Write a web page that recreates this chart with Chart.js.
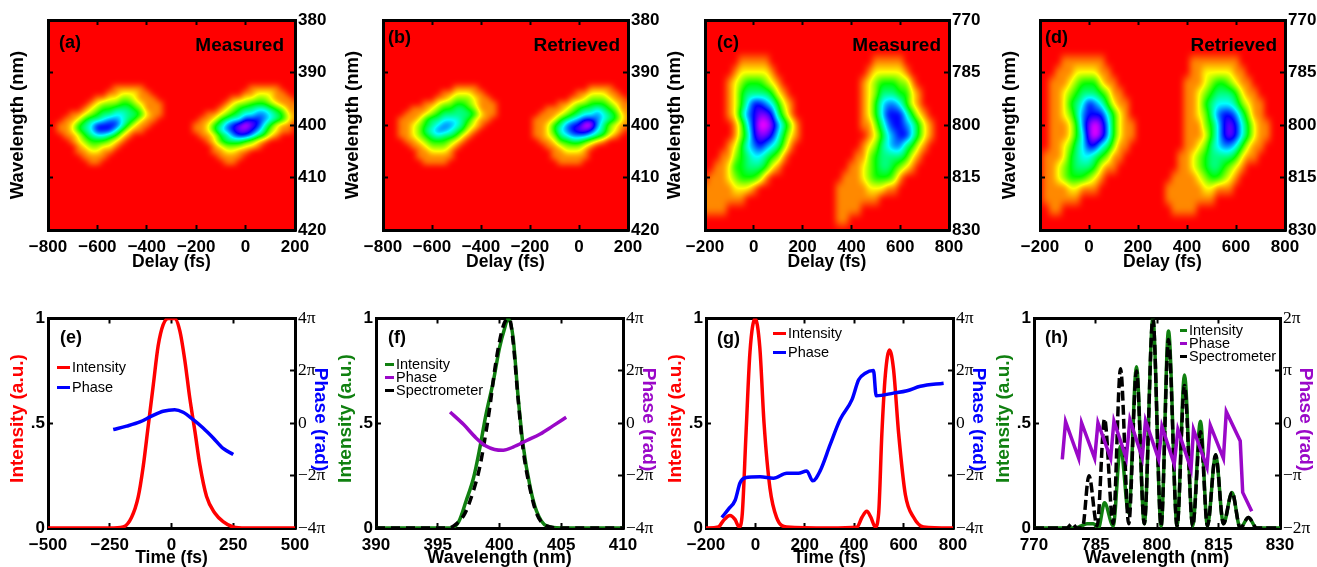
<!DOCTYPE html>
<html lang="en">
<head>
<meta charset="UTF-8">
<title>FROG traces and retrieved pulses</title>
<script src="https://cdn.jsdelivr.net/npm/chart.js"></script>
<style>
    html, body { margin: 0; padding: 0; background: #fff; width: 1317px; height: 567px; overflow: hidden; }
    canvas { position: absolute; filter: blur(0.5px); }
</style>
</head>
<body>
<script>
// tick lists
const delayTicksAB = [-800, -600, -400, -200, 0, 200];
const delayTicksCD = [-200, 0, 200, 400, 600, 800];
const waveTicksAB = [380, 390, 400, 410, 420];
const waveTicksCD = [770, 785, 800, 815, 830];
const timeTicksE = [-500, -250, 0, 250, 500];
const waveTicksF = [390, 395, 400, 405, 410];
const timeTicksG = [-200, 0, 200, 400, 600, 800];
const waveTicksH = [770, 785, 800, 815, 830];
const intensityTicks = [0, 0.5, 1];
const phaseTicks4 = [-4, -2, 0, 2, 4];   // in units of pi
const phaseTicks2 = [-2, -1, 0, 1, 2];

// trace grids: one digit per cell, 0 = background, a = peak
const delaysAB = [-800,-775,-750,-725,-700,-675,-650,-625,-600,-575,-550,-525,-500,-475,-450,-425,-400,-375,-350,-325,-300,-275,-250,-225,-200,-175,-150,-125,-100,-75,-50,-25,0,25,50,75,100,125,150,175,200];
const delaysCD = [-200,-175,-150,-125,-100,-75,-50,-25,0,25,50,75,100,125,150,175,200,225,250,275,300,325,350,375,400,425,450,475,500,525,550,575,600,625,650,675,700,725,750,775,800];
const wavesAB = [393,394,395,396,397,398,399,400,401,402,403,404,405,406,407];
const wavesCD = [782,785,788,791,794,797,800,803,806,809,812,815,818,821,824,827];

const traceA = [
  '000000000001111100000 00000000000011111000',
  '000000000011222110000 00000000000112221100',
  '000000001122332111000 00000000011223321110',
  '000000012333443211100 00000000123344432111',
  '000000123445554311100 00000001234556654311',
  '000011234556655421100 00000112345667765421',
  '000112455677654211000 00001124566888765421',
  '001124568888642110000 00011245789a98642110',
  '001124568886421100000 00011246789987532110',
  '000112456654210000000 00001124578875421000',
  '000012344432100000000 00000124555432100000',
  '000001233221000000000 00000012333221000000',
  '000001122110000000000 00000011221100000000',
  '000000111100000000000 00000001111000000000',
  '000000011000000000000 00000000110000000000'
];
const traceB = [
  '000000000000111100000 00000000000001111000',
  '000000000011222110000 00000000000112221100',
  '000000000112333211000 00000000001123332110',
  '000000011233443211100 00000000112334443211',
  '000001112344554311100 00000011123455654311',
  '000011123455555421100 00000111234566765421',
  '000111245566654211000 00001112456788765421',
  '000112345677653210000 000011245788aa753211',
  '000112356776542100000 00001124678998653210',
  '000112345655421000000 00001123567776542100',
  '000011234443210000000 00000112445543210000',
  '000001123332100000000 00000011233321000000',
  '000000112221000000000 00000001122210000000',
  '000000111111000000000 00000001111110000000',
  '000000011110000000000 00000000111100000000'
];
const traceC = [
  '000000111110000000000 00000001111100000000',
  '000001222221000000000 00000012222210000000',
  '000012344432100000000 00000123444331000000',
  '000012455554210000000 00000123555442100000',
  '000012468876421000000 00000124677642100000',
  '000012578998531000000 00000124688864210000',
  '000001368aa9753100000 00000113578876421000',
  '000001358998642100000 00000012467886421000',
  '000012467876531000000 00000123567754210000',
  '000113456654310000000 00001134555542100000',
  '001124455542100000000 00011234554321000000',
  '011123444310000000000 00111234443100000000',
  '111112221000000000000 01111122211000000000',
  '111111100000000000000 01111111000000000000',
  '111100000000000000000 01111000000000000000',
  '000000000000000000000 01100000000000000000'
];
const traceD = [
  '000011111110000000000 00001111111100000000',
  '000111222211000000000 00001122222110000000',
  '001112344421100000000 00011123443211000000',
  '001123455543110000000 00011234555421100000',
  '001124568764211000000 00011245666532110000',
  '001123578886421000000 00011235788753110000',
  '001112479a97421100000 00011134689864211000',
  '001112469a97421100000 00011124689864211000',
  '001123568865311000000 00011235677642110000',
  '011124566543110000000 00112345555421100000',
  '011234555421100000000 00112345543210000000',
  '011234443210000000000 01111234432100000000',
  '011112211100000000000 11111122111000000000',
  '011111100000000000000 11111111000000000000',
  '001100000000000000000 01111000000000000000',
  '000000000000000000000 00000000000000000000'
];

// panel (e)
const eTime = [-500,-250,-196,-162,-135,-115,-95,-74,-54,-34,-13,13,34,54,74,95,115,142,176,209,250,300,500];
const eIntensity = [0,0,0.005,0.05,0.147,0.29,0.48,0.68,0.87,0.97,1,1,0.94,0.8,0.62,0.46,0.3,0.15,0.07,0.03,0.005,0,0];
const ePhaseTime = [-236,-182,-128,-81,-34,13,47,88,128,169,209,250];
const ePhase = [-0.24,-0.11,0.05,0.27,0.46,0.52,0.42,0.14,-0.18,-0.56,-0.96,-1.19];

// panel (f)
const fWave = [390,396,396.7,397.3,397.9,398.4,398.9,399.5,400,400.4,400.7,401.1,401.5,401.9,402.5,403,403.8,405,410];
const fIntensity = [0,0,0.03,0.13,0.24,0.38,0.54,0.7,0.86,0.95,1,0.91,0.63,0.4,0.19,0.08,0.01,0,0];
const fSpecWave = [390,395.8,396.3,397.2,397.9,398.4,398.8,399.2,399.6,400,400.4,400.8,401.1,401.5,401.9,402.5,403,403.8,405,410];
const fSpectrometer = [0,0,0.01,0.07,0.18,0.29,0.42,0.57,0.75,0.89,0.98,1,0.89,0.62,0.38,0.18,0.07,0.01,0,0];
const fPhaseWave = [396,397.1,398.1,398.9,399.6,400.3,401.1,402.2,403.3,404.3,405.4];
const fPhase = [0.43,-0.05,-0.56,-0.87,-1,-1.03,-0.91,-0.66,-0.41,-0.11,0.23];

// panel (g)
const gTime = [-200,-150,-130,-103,-82,-66,-53,-38,-22,-1,18,35,59,86,127,300,411,431,451,468,485,499,512,526,543,559,580,607,641,681,800];
const gIntensity = [0,0.005,0.035,0.06,0.04,0.005,0.07,0.45,0.84,1,0.86,0.5,0.19,0.05,0.005,0,0.004,0.05,0.08,0.05,0.005,0.07,0.45,0.73,0.85,0.76,0.45,0.16,0.05,0.005,0];
const gPhaseTime = [-136,-109,-82,-62,-42,19,73,127,174,208,232,262,303,343,391,418,445,478,489,559,614,668,762];
const gPhase = [-3.6,-3.28,-2.94,-2.27,-2.08,-2.04,-2.1,-1.91,-1.91,-1.82,-2.2,-1.82,-0.81,0.14,0.9,1.66,1.91,2.01,1.05,1.15,1.24,1.41,1.53];

// panel (h)
const hWave = [770,780,781.5,783,784.5,785.7,787.2,789.3,791.1,793.1,795,796.9,799,801,802.8,804.9,806.7,808.7,810.6,812.3,814.3,816.2,818.3,820.3,822.3,824.3,830];
const hIntensity = [0,0,0.01,0.02,0.02,0,0.12,0.01,0.39,0.07,0.77,0.02,1,0.01,0.94,0.01,0.73,0.01,0.51,0.01,0.35,0.02,0.17,0,0.05,0,0];
const hSpecWave = [770,778,779.3,780.5,781.8,783.4,785.4,787.2,789.3,791.1,793.1,795,796.9,799,801,802.8,804.9,806.7,808.7,810.6,812.3,814.3,816.2,818.3,820.3,822.3,824.3,830];
const hSpectrometer = [0,0,0.02,0,0,0.25,0.01,0.52,0.02,0.76,0.02,0.75,0.02,1,0.01,0.9,0.01,0.68,0.01,0.46,0.01,0.35,0.02,0.17,0,0.05,0,0];
const hPhaseWave = [776.9,777.7,780.9,781.6,784.8,785.6,788.7,789.5,792.5,793.4,796.4,797.2,800.4,801.2,804.2,805.1,808.3,808.9,812.2,813,816.2,816.9,820.3,820.9,823.1];
const hPhase = [-0.69,0.03,-0.67,0.01,-0.67,0.01,-0.67,0.04,-0.67,0.07,-0.66,0.05,-0.69,-0.06,-0.78,-0.12,-0.88,-0.12,-0.84,-0.04,-0.67,0.22,-0.34,-1.32,-1.68];

const RED = '#ff0000', BLUE = '#0000ff', GREEN = '#108010', PURPLE = '#9a08c8', BLACK = '#000000';
const SANS = '"Liberation Sans", Arial, sans-serif';
const SERIF = '"Liberation Serif", "Times New Roman", serif';

function pts(xs, ys) {
    return xs.map((x, i) => ({ x: x, y: ys[i] }));
}

function minus(v) {
    return String(v).replace('-', '\u2212');
}

function piLabel(v) {
    if (v === 0) return '0';
    if (v === 1) return '\u03c0';
    if (v === -1) return '\u2212\u03c0';
    return minus(v) + '\u03c0';
}

// fixed box sizes so every plot area lands where the figure has it
function axis(position, size, tickList, opts) {
    const o = opts || {};
    const horizontal = position === 'top' || position === 'bottom';
    const cfg = {
        type: 'linear',
        position: position,
        min: tickList[0],
        max: tickList[tickList.length - 1],
        reverse: !!o.reverse,
        border: { display: true, width: 3, color: BLACK },
        grid: { drawOnChartArea: false, drawTicks: true, tickLength: -5, tickWidth: 2, tickColor: BLACK },
        ticks: {
            display: !!o.labels,
            autoSkip: false,
            maxRotation: 0,
            minRotation: 0,
            padding: o.padding === undefined ? 8 : o.padding,
            color: BLACK,
            font: o.font || { family: SANS, size: 17, weight: 'bold' },
            callback: o.labels || (v => v)
        },
        afterBuildTicks: s => { s.ticks = tickList.map(v => ({ value: v })); },
        afterFit: s => { if (horizontal) s.height = size; else s.width = size; }
    };
    if (o.title) {
        cfg.title = {
            display: true,
            text: o.title,
            color: o.titleColor || BLACK,
            padding: { top: o.titlePad, bottom: o.titlePad },
            font: { family: SANS, size: o.titleSize || 18.5, weight: 'bold', lineHeight: 1.2 }
        };
    }
    return cfg;
}

// hue wheel from red through to magenta
function levelToRgb(level) {
    const deg = level < 2 ? 60 * Math.pow(Math.max(level, 0) / 2, 0.9) : level * 30;
    const h = deg / 60;
    const x = 1 - Math.abs(h % 2 - 1);
    const table = [[1, x, 0], [x, 1, 0], [0, 1, x], [0, x, 1], [x, 0, 1], [1, 0, x]];
    const c = table[Math.min(5, Math.floor(h))];
    return [c[0] * 255, c[1] * 255, c[2] * 255];
}

// the original trace is shaded, so the cells are softened before colouring
function boxBlur(buf, w, h, r) {
    const out = new Float32Array(w * h);
    for (let j = 0; j < h; j++) {
        for (let i = 0; i < w; i++) {
            let sum = 0, n = 0;
            for (let k = -r; k <= r; k++) {
                const ii = Math.min(w - 1, Math.max(0, i + k));
                sum += buf[j * w + ii]; n++;
            }
            out[j * w + i] = sum / n;
        }
    }
    const res = new Float32Array(w * h);
    for (let i = 0; i < w; i++) {
        for (let j = 0; j < h; j++) {
            let sum = 0, n = 0;
            for (let k = -r; k <= r; k++) {
                const jj = Math.min(h - 1, Math.max(0, j + k));
                sum += out[jj * w + i]; n++;
            }
            res[j * w + i] = sum / n;
        }
    }
    return res;
}

function heatPlugin(rows, delays, waves) {
    const grid = rows.map(r => r.replace(/ /g, '').split('').map(ch => parseInt(ch, 16)));
    const at = (r, c) => (grid[r] && grid[r][c] !== undefined) ? grid[r][c] : 0;
    const dx = delays[1] - delays[0], dy = waves[1] - waves[0];
    return {
        id: 'heat',
        beforeDraw(chart) {
            const a = chart.chartArea, xs = chart.scales.x, ys = chart.scales.y;
            const w = Math.round(a.right - a.left), h = Math.round(a.bottom - a.top);
            let buf = new Float32Array(w * h);
            for (let j = 0; j < h; j++) {
                const fy = (ys.getValueForPixel(a.top + j + 0.5) - waves[0]) / dy;
                const r0 = Math.floor(fy), ty = fy - r0;
                for (let i = 0; i < w; i++) {
                    const fx = (xs.getValueForPixel(a.left + i + 0.5) - delays[0]) / dx;
                    const c0 = Math.floor(fx), tx = fx - c0;
                    buf[j * w + i] = (at(r0, c0) * (1 - tx) + at(r0, c0 + 1) * tx) * (1 - ty)
                                   + (at(r0 + 1, c0) * (1 - tx) + at(r0 + 1, c0 + 1) * tx) * ty;
                }
            }
            buf = boxBlur(boxBlur(buf, w, h, 3), w, h, 2);
            const img = chart.ctx.createImageData(w, h);
            for (let k = 0; k < w * h; k++) {
                const rgb = levelToRgb(buf[k]);
                img.data[k * 4] = rgb[0]; img.data[k * 4 + 1] = rgb[1]; img.data[k * 4 + 2] = rgb[2]; img.data[k * 4 + 3] = 255;
            }
            chart.ctx.putImageData(img, Math.round(a.left), Math.round(a.top));
        }
    };
}

function sideTitle(ctx, text, color, x, y, angle) {
    ctx.save();
    ctx.translate(x, y);
    ctx.rotate(angle);
    ctx.font = 'bold 19px ' + SANS;
    ctx.fillStyle = color;
    ctx.textAlign = 'center';
    ctx.textBaseline = 'middle';
    ctx.fillText(text, 0, 0);
    ctx.restore();
}

// panel letter, Measured/Retrieved tag, legend and the coloured side titles
function notes(n) {
    return {
        id: 'notes',
        afterDraw(chart) {
            const ctx = chart.ctx, a = chart.chartArea;
            ctx.save();
            ctx.fillStyle = BLACK;
            ctx.textBaseline = 'middle';
            ctx.font = 'bold 18px ' + SANS;
            ctx.textAlign = 'left';
            ctx.fillText(n.letter, a.left + n.lx, a.top + n.ly);
            if (n.tag) {
                ctx.font = 'bold 19px ' + SANS;
                ctx.textAlign = 'right';
                ctx.fillText(n.tag, a.right - n.tr, a.top + 26);
            }
            if (n.legend) {
                ctx.font = '14.5px ' + SANS;
                ctx.textAlign = 'left';
                chart.data.datasets.forEach((d, i) => {
                    const y = a.top + n.legend.y + i * n.legend.step;
                    const x = a.left + n.legend.x;
                    ctx.fillStyle = d.borderColor;
                    ctx.fillRect(x, y - 1.5, n.legend.w, 3);
                    ctx.fillStyle = BLACK;
                    ctx.fillText(d.label, x + n.legend.w + 2, y);
                });
            }
            ctx.restore();
            if (n.intensityColor) {
                sideTitle(ctx, 'Intensity (a.u.)', n.intensityColor, a.left - 30, a.top + 100, -Math.PI / 2);
                sideTitle(ctx, 'Phase (rad)', n.phaseColor, a.right + 25, a.top + 101, Math.PI / 2);
            }
        }
    };
}

const LEFT = 50, RIGHT = 60;

function addCanvas(plotLeft, plotWidth, top, height) {
    const c = document.createElement('canvas');
    c.width = LEFT + plotWidth + RIGHT;
    c.height = height;
    c.style.left = (plotLeft - LEFT) + 'px';
    c.style.top = top + 'px';
    document.body.appendChild(c);
    return c;
}

function baseOptions(scales) {
    return {
        responsive: false,
        animation: false,
        devicePixelRatio: 1,
        layout: { padding: 0 },
        plugins: { legend: { display: false }, tooltip: { enabled: false } },
        scales: scales
    };
}

function tracePanel(p) {
    const canvas = addCanvas(p.left, p.width, 0, 280);
    new Chart(canvas, {
        type: 'scatter',
        data: { datasets: [{ label: p.tag, data: [], xAxisID: 'x', yAxisID: 'y' }] },
        options: baseOptions({
            x: axis('bottom', 50, p.xTicks, { labels: minus, padding: 12, title: 'Delay (fs)', titlePad: 7, titleSize: 17.5 }),
            xTop: axis('top', 20, p.xTicks),
            y: axis('left', LEFT, p.yTicks, { reverse: true, title: 'Wavelength (nm)', titlePad: 9 }),
            yRight: axis('right', RIGHT, p.yTicks, { reverse: true, labels: v => v })
        }),
        plugins: [heatPlugin(p.rows, p.delays, p.waves), notes(p.notes)]
    });
}

function line(label, xs, ys, color, axisId, order, extra) {
    return Object.assign({
        label: label,
        data: pts(xs, ys),
        borderColor: color,
        borderWidth: 3.5,
        pointRadius: 0,
        fill: false,
        cubicInterpolationMode: 'monotone',
        xAxisID: 'x',
        yAxisID: axisId,
        order: order
    }, extra || {});
}

function pulsePanel(p) {
    const canvas = addCanvas(p.left, p.width, 300, 285);
    p.notes.intensityColor = p.intensityColor;
    p.notes.phaseColor = p.phaseColor;
    new Chart(canvas, {
        type: 'line',
        data: { datasets: p.datasets },
        options: baseOptions({
            x: axis('bottom', 57, p.xTicks, { labels: minus, padding: 12, title: p.xTitle, titlePad: 16, titleSize: p.xTitleSize }),
            xTop: axis('top', 17, p.xTicks),
            y: axis('left', LEFT, intensityTicks, { labels: v => (v === 0.5 ? '.5' : String(v)) }),
            yRight: axis('right', RIGHT, p.phaseTicks, {
                labels: piLabel,
                padding: 8,
                font: { family: SERIF, size: 17.5 }
            })
        }),
        plugins: [notes(p.notes)]
    });
}

const straight = { cubicInterpolationMode: 'default', tension: 0 };

tracePanel({ left: 48, width: 247, xTicks: delayTicksAB, yTicks: waveTicksAB, rows: traceA, delays: delaysAB, waves: wavesAB, tag: 'Measured',
    notes: { letter: '(a)', lx: 11, ly: 23, tag: 'Measured', tr: 11 } });
tracePanel({ left: 383, width: 245, xTicks: delayTicksAB, yTicks: waveTicksAB, rows: traceB, delays: delaysAB, waves: wavesAB, tag: 'Retrieved',
    notes: { letter: '(b)', lx: 5, ly: 18, tag: 'Retrieved', tr: 8 } });
tracePanel({ left: 705, width: 244, xTicks: delayTicksCD, yTicks: waveTicksCD, rows: traceC, delays: delaysCD, waves: wavesCD, tag: 'Measured',
    notes: { letter: '(c)', lx: 12, ly: 23, tag: 'Measured', tr: 8 } });
tracePanel({ left: 1040, width: 245, xTicks: delayTicksCD, yTicks: waveTicksCD, rows: traceD, delays: delaysCD, waves: wavesCD, tag: 'Retrieved',
    notes: { letter: '(d)', lx: 5, ly: 18, tag: 'Retrieved', tr: 8 } });

pulsePanel({ left: 48, width: 247, xTicks: timeTicksE, phaseTicks: phaseTicks4, xTitle: 'Time (fs)', xTitleSize: 17.5, intensityColor: RED, phaseColor: BLUE,
    datasets: [
        line('Intensity', eTime, eIntensity, RED, 'y', 2),
        line('Phase', ePhaseTime, ePhase, BLUE, 'yRight', 1)
    ],
    notes: { letter: '(e)', lx: 12, ly: 20, legend: { x: 9, y: 49, step: 20, w: 13 } } });
pulsePanel({ left: 376, width: 247, xTicks: waveTicksF, phaseTicks: phaseTicks4, xTitle: 'Wavelength (nm)', xTitleSize: 18, intensityColor: GREEN, phaseColor: PURPLE,
    datasets: [
        line('Intensity', fWave, fIntensity, GREEN, 'y', 3),
        line('Phase', fPhaseWave, fPhase, PURPLE, 'yRight', 1),
        line('Spectrometer', fSpecWave, fSpectrometer, BLACK, 'y', 2, { borderDash: [9, 6] })
    ],
    notes: { letter: '(f)', lx: 12, ly: 20, legend: { x: 9, y: 46, step: 13, w: 9 } } });
pulsePanel({ left: 706, width: 247, xTicks: timeTicksG, phaseTicks: phaseTicks4, xTitle: 'Time (fs)', xTitleSize: 17.5, intensityColor: RED, phaseColor: BLUE,
    datasets: [
        line('Intensity', gTime, gIntensity, RED, 'y', 2),
        line('Phase', gPhaseTime, gPhase, BLUE, 'yRight', 1)
    ],
    notes: { letter: '(g)', lx: 11, ly: 21, legend: { x: 67, y: 15, step: 19, w: 13 } } });
pulsePanel({ left: 1034, width: 246, xTicks: waveTicksH, phaseTicks: phaseTicks2, xTitle: 'Wavelength (nm)', xTitleSize: 18, intensityColor: GREEN, phaseColor: PURPLE,
    datasets: [
        line('Intensity', hWave, hIntensity, GREEN, 'y', 3),
        line('Phase', hPhaseWave, hPhase, PURPLE, 'yRight', 1, straight),
        line('Spectrometer', hSpecWave, hSpectrometer, BLACK, 'y', 2, { borderDash: [10, 4] })
    ],
    notes: { letter: '(h)', lx: 11, ly: 20, legend: { x: 146, y: 12, step: 13, w: 7 } } });
</script>
</body>
</html>
